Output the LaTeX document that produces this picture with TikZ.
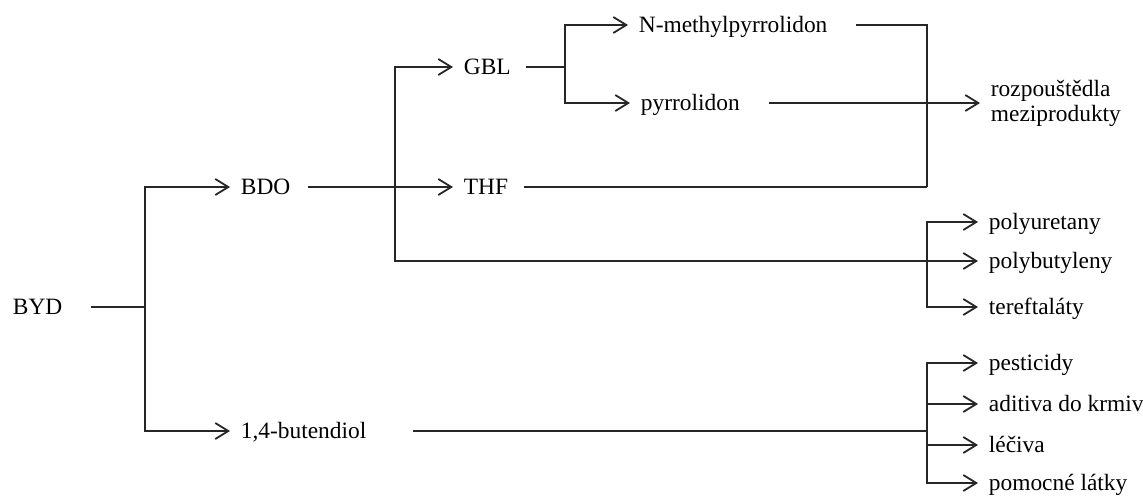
\documentclass[tikz,border=0pt]{standalone}
\usepackage{fontspec}
\setmainfont{Liberation Serif}
\usetikzlibrary{arrows.meta,positioning,calc}

\begin{document}
\begin{tikzpicture}[x=0.5pt,y=-0.5pt, line width=0.9pt, draw=black!85,
    every node/.style={font=\fontsize{11.7}{12.5}\selectfont,inner sep=0pt,anchor=west,text height=8.4pt,text depth=0.7pt},
    arr/.style={-{Straight Barb[length=6.5pt,width=8pt]},shorten >=5pt}]
    \useasboundingbox (0,0) rectangle (1143,496);
    % products
    \node (byd) at (12,307) {BYD};
    \node (bdo) at (240,187) {BDO};
    \node (but) at (240,431) {1,4-butendiol};
    \node (gbl) at (463,67) {GBL};
    \node (thf) at (463,187) {THF};
    \node (nmp) at (638,25) {N-methylpyrrolidon};
    \node (pyr) at (640,103) {pyrrolidon};
    \node[align=left,text height=,text depth=] (roz) at (990,103) {rozpouštědla\\meziprodukty};
    \node (pu) at (988,222) {polyuretany};
    \node (pb) at (988,261) {polybutyleny};
    \node (tf) at (988,307) {tereftaláty};
    \node (pe) at (988,363) {pesticidy};
    \node (ad) at (988,404) {aditiva do krmiv};
    \node (le) at (988,445) {léčiva};
    \node (po) at (988,483) {pomocné látky};
    % branch points
    \coordinate (j1) at (145,307);
    \coordinate (j2) at (395,187);
    \coordinate (j3) at (565,67);
    \coordinate (j4) at (927,187);
    \coordinate (j5) at (927,261);
    \coordinate (j6) at (927,431);
    % connectors
    \draw ([xshift=14pt]byd.east) -- (j1);
    \draw[arr] (j1) |- (bdo.west);
    \draw[arr] (j1) |- (but.west);
    \draw[arr] ([xshift=8.5pt]bdo.east) -- (thf.west);
    \draw[arr] (j2) |- (gbl.west);
    \draw[arr] (j2) |- (pb.west);
    \draw ([xshift=7pt]gbl.east) -- (j3);
    \draw[arr] (j3) |- (nmp.west);
    \draw[arr] (j3) |- (pyr.west);
    \draw ([xshift=14pt]nmp.east) -| (j4);
    \draw ([xshift=7.5pt]thf.east) -- (j4);
    \draw[arr] ([xshift=14pt]pyr.east) -- (roz.west);
    \foreach \t in {pu,tf}{\draw[arr] (j5) |- (\t.west);}
    \draw ([xshift=23pt]but.east) -- (j6);
    \foreach \t in {pe,ad,le,po}{\draw[arr] (j6) |- (\t.west);}
  \end{tikzpicture}
\end{document}
